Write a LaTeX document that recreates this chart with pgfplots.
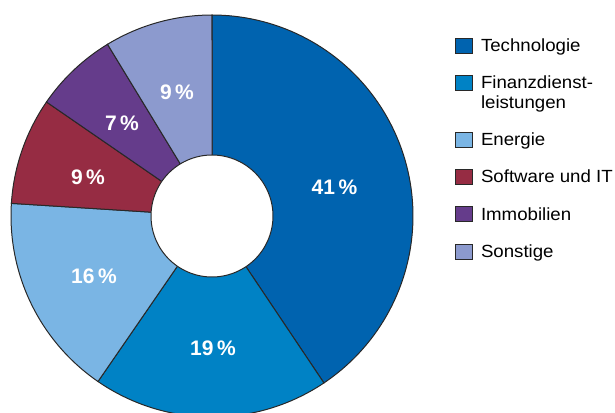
\documentclass[border=0pt]{standalone}
\usepackage{pgfplots}
\pgfplotsset{compat=1.18}
\usepackage{fontspec}
\setmainfont{Liberation Sans}
\newfontfamily\legfont{Liberation Sans}[FakeStretch=1.06]
\definecolor{tech}{RGB}{0,99,175}
\definecolor{fin}{RGB}{0,130,197}
\definecolor{ener}{RGB}{122,181,228}
\definecolor{soft}{RGB}{150,44,67}
\definecolor{immo}{RGB}{101,60,139}
\definecolor{sonst}{RGB}{140,154,206}
\definecolor{edge}{RGB}{40,40,40}
\begin{document}
\begin{tikzpicture}
\path[use as bounding box] (0,0) rectangle (307.5pt,206pt);
\begin{axis}[
  hide axis, x=0.5pt, y=0.5pt,
  xmin=-212, xmax=403, ymin=-196, ymax=216,
  at={(0,0)}, anchor=south west,
  legend style={at={(axis cs:243,183)}, anchor=north west, draw=none, fill=none,
    font=\legfont\fontsize{8.8}{9.6}\selectfont, row sep=5.6pt, column sep=0pt, inner sep=0pt,
    nodes={inner sep=2pt, text height=7pt, text depth=2pt},
    cells={anchor=base west}},
  legend image code/.code={%
    \draw[#1, line width=0.4pt] (0pt,-0.8pt) rectangle (8.5pt,6.7pt);
    \path[draw=none, fill=none] (0pt,0pt) -- (10.6pt,0pt);},
  every axis plot/.append style={draw=edge, line width=0.5pt, samples=90, variable=\t},
]
% cumulative shares (percent): 0, 40.6, 59.6, 76.0, 84.6, 91.3, 100
\addplot[fill=tech, domain=0:40.6*3.6] ({201*sin(t)},{201*cos(t)}) -- (axis cs:0,0) -- cycle;
\addlegendentry{Technologie}
\addplot[fill=fin, domain=40.6*3.6:59.6*3.6] ({201*sin(t)},{201*cos(t)}) -- (axis cs:0,0) -- cycle;
\addlegendentry[text depth=12pt]{\rlap{\raisebox{-10pt}{leistungen}}Finanzdienst-}
\addplot[fill=ener, domain=59.6*3.6:76.0*3.6] ({201*sin(t)},{201*cos(t)}) -- (axis cs:0,0) -- cycle;
\addlegendentry{Energie}
\addplot[fill=soft, domain=76.0*3.6:84.6*3.6] ({201*sin(t)},{201*cos(t)}) -- (axis cs:0,0) -- cycle;
\addlegendentry{Software und IT}
\addplot[fill=immo, domain=84.6*3.6:91.3*3.6] ({201*sin(t)},{201*cos(t)}) -- (axis cs:0,0) -- cycle;
\addlegendentry{Immobilien}
\addplot[fill=sonst, domain=91.3*3.6:100*3.6] ({201*sin(t)},{201*cos(t)}) -- (axis cs:0,0) -- cycle;
\addlegendentry{Sonstige}
\addplot[fill=white, domain=0:360, samples=120, forget plot] ({61*sin(t)},{61*cos(t)}) -- cycle;
\tikzset{pl/.style={text=white, inner sep=0pt, font=\fontsize{10.5}{12}\bfseries\selectfont}}
\node[pl] at (axis cs:122.5,29) {41\,\%};
\node[pl] at (axis cs:1,-132) {19\,\%};
\node[pl] at (axis cs:-118,-60) {16\,\%};
\node[pl] at (axis cs:-124,39) {9\,\%};
\node[pl] at (axis cs:-90,93) {7\,\%};
\node[pl] at (axis cs:-35,124) {9\,\%};
\end{axis}
\end{tikzpicture}
\end{document}
